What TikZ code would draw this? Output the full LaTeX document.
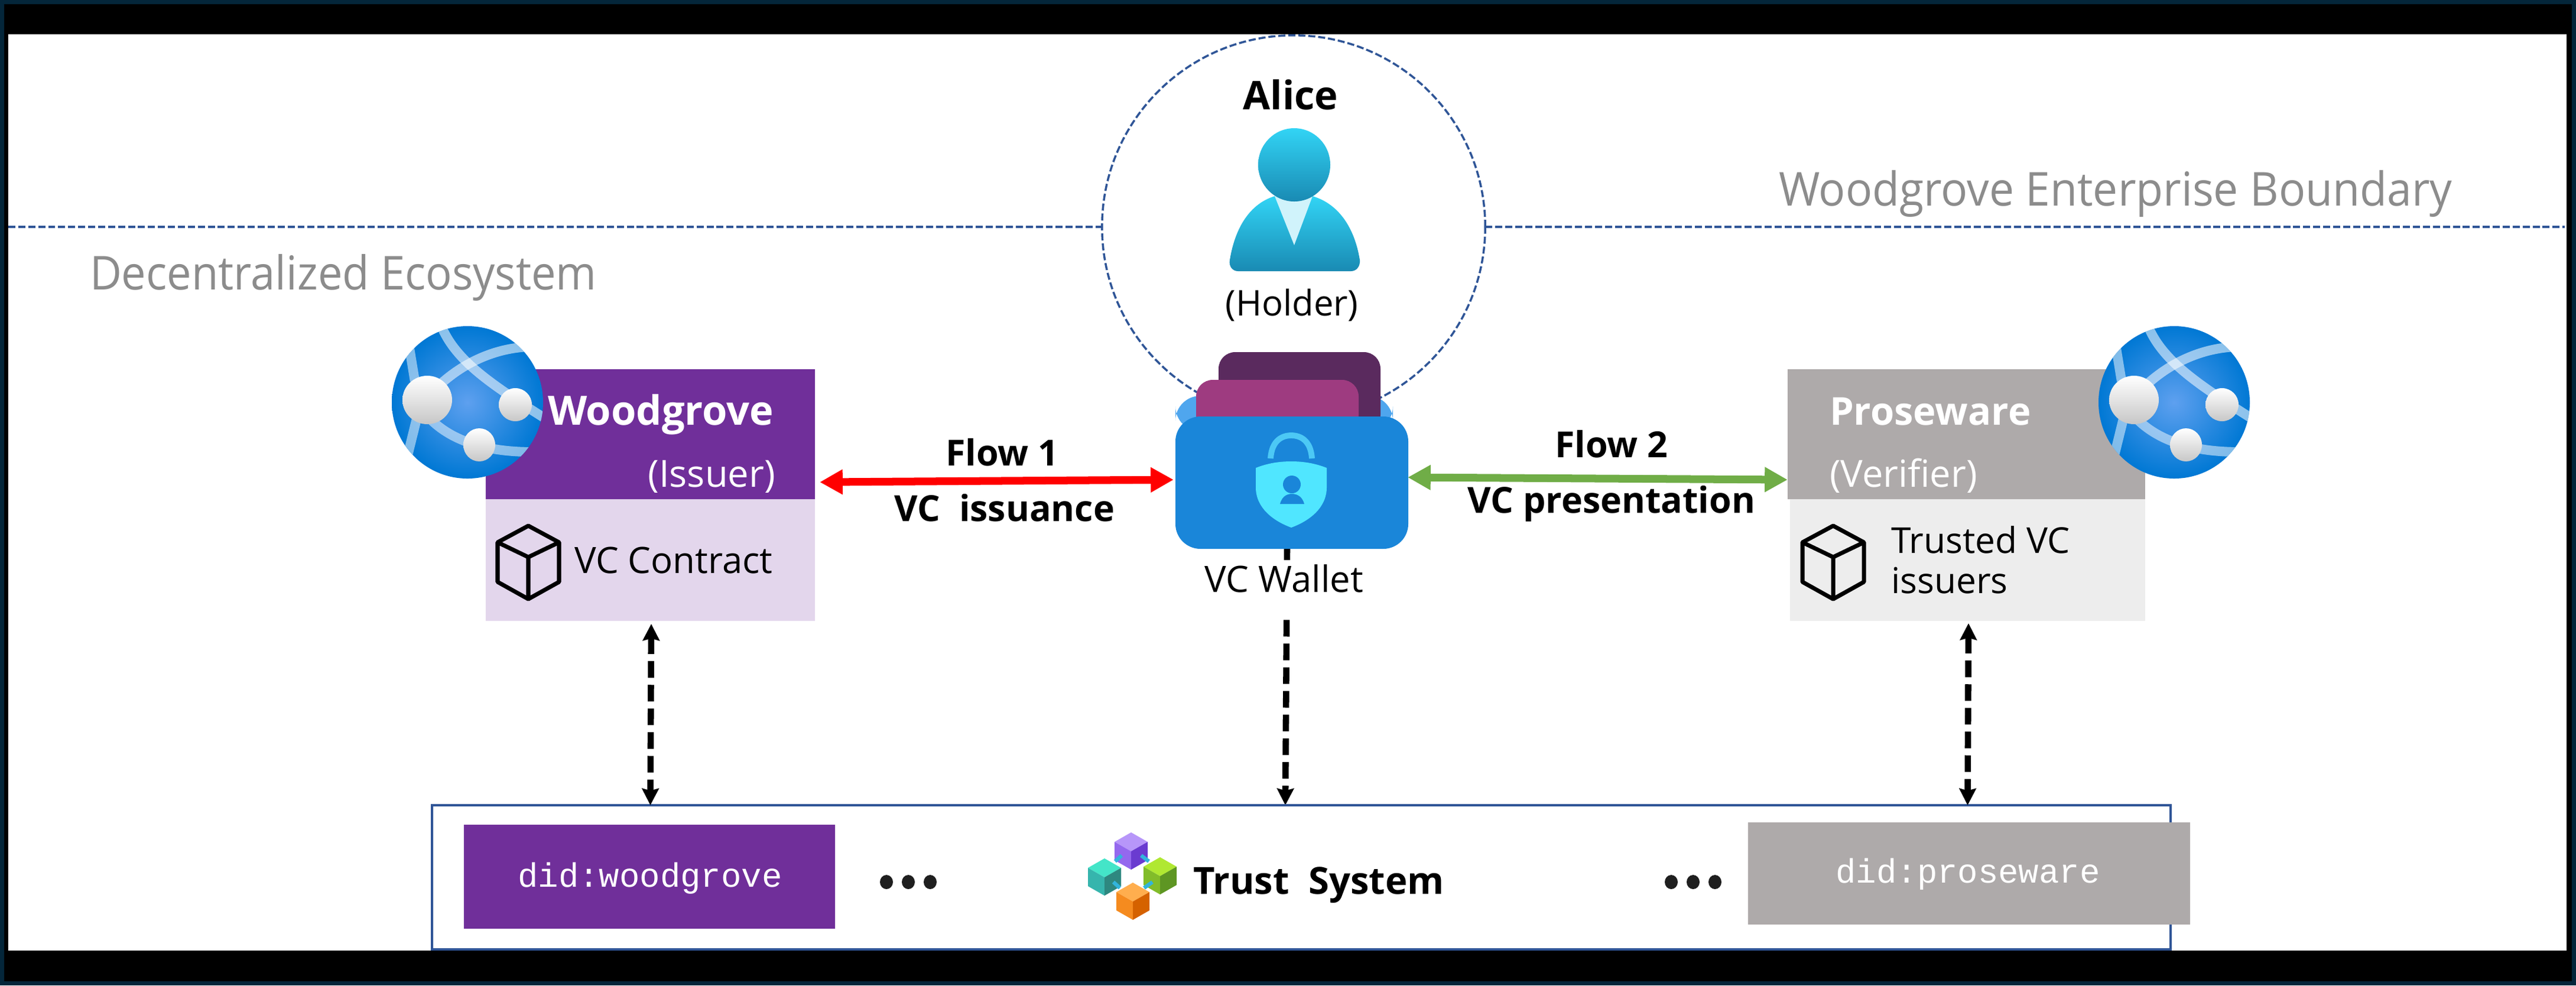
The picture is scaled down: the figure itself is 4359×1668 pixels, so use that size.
\documentclass[tikz,border=0pt]{standalone}
\usepackage{fontspec}
\setmainfont{Open Sans}
\newfontfamily\monof{Liberation Mono}
\usetikzlibrary{arrows.meta,calc}
\definecolor{navyedge}{HTML}{04263A}
\definecolor{dashblue}{HTML}{2F5597}
\definecolor{woodp}{HTML}{702F9A}
\definecolor{woodl}{HTML}{E3D6EC}
\definecolor{prosg}{HTML}{AEAAAA}
\definecolor{prosl}{HTML}{EDEDED}
\definecolor{folderf}{HTML}{1A86D9}
\definecolor{folderb}{HTML}{4FA6EE}
\definecolor{cardback}{HTML}{5A2A5E}
\definecolor{cardfront}{HTML}{9E3B80}
\definecolor{shieldc}{HTML}{50E6FF}
\definecolor{shacklec}{HTML}{4CC8F5}
\definecolor{greyt}{HTML}{8C8C8C}
\definecolor{flowg}{HTML}{70AD47}
\definecolor{persont}{HTML}{32D4F5}
\definecolor{personb}{HTML}{198AB3}
\definecolor{collarc}{HTML}{D0F3FB}
\definecolor{globein}{HTML}{5EA0EF}
\definecolor{globeout}{HTML}{0078D4}
\definecolor{linkc}{HTML}{32B4DC}
\definecolor{pa}{HTML}{B796F9}\definecolor{pb}{HTML}{9468EE}\definecolor{pc}{HTML}{6A3BD0}
\definecolor{ta}{HTML}{44E5C8}\definecolor{tb}{HTML}{36B5AD}\definecolor{tc}{HTML}{2E8880}
\definecolor{ga}{HTML}{B0E832}\definecolor{gb}{HTML}{82BC2A}\definecolor{gc}{HTML}{5E9623}
\definecolor{oa}{HTML}{FFAE4E}\definecolor{ob}{HTML}{F58B1F}\definecolor{oc}{HTML}{D56200}
\newcommand{\fs}[1]{\fontsize{#1pt}{#1pt}\selectfont}
\newcommand{\cubeicon}[1]{%
  \begin{scope}[shift={(#1,0)}]
    \draw[black,line width=2pt,line join=round] (0,890) -- (52,918) -- (52,985) -- (0,1014) -- (-52,985) -- (-52,918) -- cycle
      (-52,918) -- (0,943) -- (52,918) (0,943) -- (0,1014);
  \end{scope}}
\newcommand{\globeicon}[1]{%
  \begin{scope}[shift={(#1,0)}]
    \shade[inner color=globein,outer color=globeout] (791,681) ellipse [x radius=128,y radius=129];
    \begin{scope}
      \clip (791,681) ellipse [x radius=128,y radius=129];
      \draw[white,opacity=.55,line width=4.6pt] (746,550) .. controls (770,610) and (830,650) .. (925,710);
      \draw[white,opacity=.55,line width=4.6pt] (895,587) .. controls (820,590) and (760,630) .. (723,673);
      \draw[white,opacity=.5,line width=4.6pt] (693,590) -- (702,645);
      \draw[white,opacity=.5,line width=4.6pt] (706,705) -- (690,770);
      \draw[white,opacity=.5,line width=4.6pt] (723,704) .. controls (760,745) and (820,765) .. (900,765);
    \end{scope}
    \shade[top color=white,bottom color=black!22] (723,677) ellipse [x radius=42,y radius=41];
    \shade[top color=white,bottom color=black!22] (872,685) ellipse [x radius=28,y radius=28];
    \shade[top color=white,bottom color=black!22] (811,753) ellipse [x radius=27,y radius=28];
  \end{scope}}
\newcommand{\tcube}[5]{%
  \fill[#3] (#1,#2) -- ++(28,16) -- ++(-28,16) -- ++(-28,-16) -- cycle;
  \fill[#4] (#1-28,#2+16) -- (#1,#2+32) -- (#1,#2+63) -- (#1-28,#2+47) -- cycle;
  \fill[#5] (#1+28,#2+16) -- (#1,#2+32) -- (#1,#2+63) -- (#1+28,#2+47) -- cycle;}
\tikzset{
  panel/.style={inner sep=0pt,outer sep=0pt,rectangle},
  lab/.style={inner sep=0pt,outer sep=0pt,anchor=base},
  labl/.style={inner sep=0pt,outer sep=0pt,anchor=base west},
  labr/.style={inner sep=0pt,outer sep=0pt,anchor=base east},
  bigb/.style={font=\bfseries\fs{19}},
  flowt/.style={font=\bfseries\fs{17.3}},
  regt/.style={font=\fs{17.5}},
  headt/.style={font=\fs{22.5},text=greyt,xscale=#1,transform shape},
  boundary/.style={dashblue,line width=1pt,dash pattern=on 3.4pt off 1.4pt},
  flowarrow/.style={line width=3.7pt,{Triangle[length=11pt,width=11.4pt]}-{Triangle[length=11pt,width=11.4pt]}},
  trustarrow/.style={black,line width=3pt,dash pattern=on 8pt off 3.4pt,-{Stealth[length=8pt,width=8pt,inset=1pt]}},
  trustarrowb/.style={black,line width=3pt,dash pattern=on 8pt off 3.4pt,{Stealth[length=8pt,width=8pt,inset=1pt]}-{Stealth[length=8pt,width=8pt,inset=1pt]}},
  link/.style={color=linkc,line width=1.8pt}
}
\begin{document}
\begin{tikzpicture}[x=0.01cm,y=-0.01cm]
\useasboundingbox (0,0) rectangle (4359,1668);
\fill[navyedge] (0,0) rectangle (4359,1668);
\fill[black] (7,7) rectangle (4352,1661);
\fill[white] (14,58) rectangle (4343,1609);

% boundary + holder circle
\coordinate (bl) at (14,384);
\coordinate (br) at (4340,384);
\node[panel,circle,draw=dashblue,line width=1pt,dash pattern=on 3.4pt off 1.4pt,minimum size=6.48cm] (holder) at (2189,384) {};
\draw[boundary] (bl) -- (holder.west);
\draw[boundary] (holder.east) -- (br);

\node[labl,headt=.936] (deco) at (152,490) {Decentralized Ecosystem};
\node[labl,headt=.948] (boundt) at (3010,348) {Woodgrove Enterprise Boundary};

% person
\node[lab,bigb] (alice) at (2184,185) {Alice};
\shade[top color=persont,bottom color=personb] (2095,459) .. controls (2085,459) and (2079,450) .. (2081,440) .. controls (2090,385) and (2115,345) .. (2157,332) -- (2221,332) .. controls (2265,345) and (2292,385) .. (2301,440) .. controls (2302,450) and (2296,459) .. (2286,459) -- cycle;
\fill[collarc] (2157,332) -- (2221,332) -- (2190,415) -- cycle;
\shade[top color=persont,bottom color=personb] (2190,279) ellipse [x radius=61,y radius=62];
\node[lab,font=\fs{17}] (holdert) at (2186,534) {(Holder)};

% connector from the wallet down; its label covers part of it
\node[panel,minimum width=3.94cm,minimum height=2.24cm] (wallet) at (2186,817) {};
\node[panel,minimum width=29.4cm,minimum height=2.44cm] (trust) at (2202,1485) {};
\draw[trustarrow] ([shift={(-8,0)}]wallet.south) -- ([shift={(-27,0)}]trust.north);
\fill[white] (2030,948) rectangle (2320,1043);
\node[lab,regt] (walletlab) at (2173,1002) {VC Wallet};

% wallet
\fill[folderb,rounded corners=12] (1989,670) rectangle (2357,730);
\fill[cardback,rounded corners=8] (2062,596) rectangle (2336,730);
\fill[cardfront,rounded corners=8] (2024,643) rectangle (2299,730);
\fill[folderf,rounded corners=12] (1989,705) rectangle (2383,929);
\draw[color=shacklec,line width=2.8pt] (2150,776) .. controls (2152,745) and (2170,737) .. (2185,737) .. controls (2200,737) and (2218,745) .. (2220,776);
\fill[shieldc] (2125,792) .. controls (2145,784) and (2165,781) .. (2185,781) .. controls (2205,781) and (2225,784) .. (2245,792) -- (2245,825) .. controls (2245,860) and (2215,882) .. (2185,893) .. controls (2155,882) and (2125,860) .. (2125,825) -- cycle;
\fill[folderf] (2186,820) circle [radius=15];
\fill[folderf] (2166,853) .. controls (2170,838) and (2180,836) .. (2186,836) .. controls (2192,836) and (2203,838) .. (2207,853) -- cycle;

% woodgrove
\node[panel,fill=woodp,minimum width=5.57cm,minimum height=2.2cm] (woodhead) at (1100.5,735) {};
\node[panel,fill=woodl,minimum width=5.57cm,minimum height=2.06cm] (woodbody) at (1100.5,948) {};
\globeicon{0}
\node[labl,font=\bfseries\fs{19.5},text=white] (woodt) at (927,719) {Woodgrove};
\node[labr,font=\fs{18},text=white] (issuer) at (1312,824) {(Issuer)};
\cubeicon{894}
\node[labl,regt] (contract) at (972,970) {VC Contract};

% proseware
\node[panel,fill=prosg,minimum width=6.05cm,minimum height=2.2cm] (proshead) at (3327.5,735) {};
\node[panel,fill=prosl,minimum width=6.01cm,minimum height=2.06cm] (prosbody) at (3329.5,948) {};
\globeicon{2888}
\node[labl,font=\bfseries\fs{18.5},text=white] (prost) at (3096,719) {Proseware};
\node[labl,font=\fs{18},text=white] (verifier) at (3096,824) {(Verifier)};
\cubeicon{3102}
\node[labl,font=\fs{17.2}] (trusted1) at (3200,936) {Trusted VC};
\node[labl,font=\fs{17.2}] (trusted2) at (3200,1004) {issuers};

% flows
\draw[flowarrow,color=red] ([shift={(8,-29)}]woodhead.south east) -- ([shift={(-3,-5)}]wallet.west);
\draw[flowarrow,color=flowg] ([shift={(-1,-9)}]wallet.east) -- ([shift={(0,77)}]proshead.west);
\node[lab,flowt] (f1a) at (1696,788) {Flow 1};
\node[lab,flowt] (f1b) at (1700,882) {VC\ \ issuance};
\node[lab,flowt] (f2a) at (2727,774) {Flow 2};
\node[lab,flowt] (f2b) at (2727,868) {VC presentation};

% trust box
\draw[color=dashblue,line width=1.1pt] (trust.north west) rectangle (trust.south east);
\node[panel,fill=woodp,minimum width=6.28cm,minimum height=1.76cm] (didw) at (1099,1484) {};
\node[panel,fill=prosg,minimum width=7.48cm,minimum height=1.73cm] (didp) at (3332,1478.5) {};
\node[lab,font=\monof\fs{16.3},text=white] (didwt) at (1100,1501) {did:woodgrove};
\node[lab,font=\monof\fs{16.3},text=white] (didpt) at (3330,1494) {did:proseware};
\foreach \dx in {1500,1537,1574,2828,2865,2902} \fill[black!88] (\dx,1493) ellipse [x radius=11,y radius=12];

% trust system logo
\tcube{1914}{1409}{pa}{pb}{pc}
\tcube{1869}{1453}{ta}{tb}{tc}
\tcube{1963}{1451}{ga}{gb}{gc}
\tcube{1917}{1494}{oa}{ob}{oc}
\draw[link] (1898,1448) -- (1887,1458);
\draw[link] (1931,1448) -- (1944,1458);
\draw[link] (1884,1493) -- (1895,1503);
\draw[link] (1950,1493) -- (1936,1503);
\node[labl,font=\bfseries\fs{18}] (trustt) at (2019,1513) {Trust\ \ System};

% dashed to trust
\draw[trustarrowb] ([shift={(1.5,5)}]woodbody.south) -- (trust.north -| woodbody.south);
\draw[trustarrowb] ([shift={(1.5,4)}]prosbody.south) -- (trust.north -| prosbody.south);
\end{tikzpicture}
\end{document}
